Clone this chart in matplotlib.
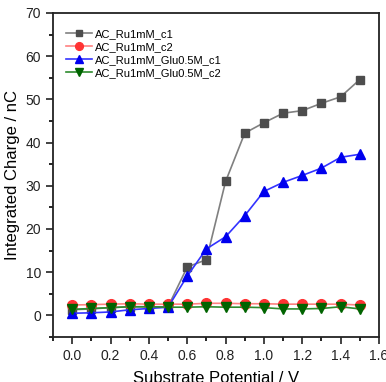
import numpy as np
import matplotlib
matplotlib.use('Agg')
import matplotlib.pyplot as plt
from matplotlib.ticker import MultipleLocator

plt.rcParams['font.family'] = ['Liberation Sans', 'DejaVu Sans']

potential = [0.0, 0.1, 0.2, 0.3, 0.4, 0.5, 0.6, 0.7, 0.8, 0.9, 1.0, 1.1, 1.2, 1.3, 1.4, 1.5]
ru_c1 = [1.3, 1.5, 1.8, 2.0, 2.0, 2.0, 11.2, 12.9, 31.0, 42.2, 44.6, 46.8, 47.4, 49.1, 50.6, 54.6]
ru_c2 = [2.4, 2.5, 2.6, 2.7, 2.6, 2.6, 2.6, 2.8, 2.8, 2.7, 2.7, 2.6, 2.6, 2.6, 2.6, 2.4]
glu_c1 = [0.5, 0.6, 0.8, 1.3, 1.6, 1.9, 9.1, 15.4, 18.2, 23.1, 28.7, 30.8, 32.4, 34.1, 36.6, 37.3]
glu_c2 = [1.4, 1.6, 1.8, 2.0, 2.0, 1.9, 1.9, 2.0, 1.9, 1.9, 1.8, 1.5, 1.5, 1.6, 2.0, 1.5]

fig = plt.figure(figsize=(3.86, 3.82), dpi=100)
ax = fig.add_axes([53 / 386, 45 / 382, (379 - 53) / 386, (337 - 13) / 382])

ax.plot(potential, ru_c1, color='#808080', lw=1.2, marker='s', ms=6,
        mfc='#4d4d4d', mec='#4d4d4d', label='AC_Ru1mM_c1')
ax.plot(potential, ru_c2, color='#ff8080', lw=1.2, marker='o', ms=7,
        mfc='#ff3333', mec='#ff3333', label='AC_Ru1mM_c2')
ax.plot(potential, glu_c1, color='#3333ff', lw=1.2, marker='^', ms=7,
        mfc='#0000ee', mec='#0000ee', label='AC_Ru1mM_Glu0.5M_c1')
ax.plot(potential, glu_c2, color='#2e8b2e', lw=1.2, marker='v', ms=7,
        mfc='#006400', mec='#006400', label='AC_Ru1mM_Glu0.5M_c2')

ax.set_xlim(-0.1, 1.6)
ax.set_ylim(-5, 70)
ax.xaxis.set_major_locator(MultipleLocator(0.2))
ax.xaxis.set_minor_locator(MultipleLocator(0.1))
ax.yaxis.set_major_locator(MultipleLocator(10))
ax.yaxis.set_minor_locator(MultipleLocator(5))
ax.xaxis.set_major_formatter(plt.FormatStrFormatter('%.1f'))
ax.tick_params(which='major', direction='out', length=5, width=1.2, labelsize=10, colors='#222222')
ax.tick_params(which='minor', direction='out', length=3, width=1.2)
for s in ax.spines.values():
    s.set_linewidth(1.3)
    s.set_color('#222222')

ax.set_xlabel('Substrate Potential / V', fontsize=12, labelpad=6)
ax.set_ylabel('Integrated Charge / nC', fontsize=12, labelpad=4)

leg = ax.legend(loc='upper left', bbox_to_anchor=(0.02, 0.97), frameon=False,
                fontsize=8, handlelength=2.3, handletextpad=0.3,
                labelspacing=0.25, borderaxespad=0.2, markerscale=0.8)

plt.savefig('out.png', dpi=100)
